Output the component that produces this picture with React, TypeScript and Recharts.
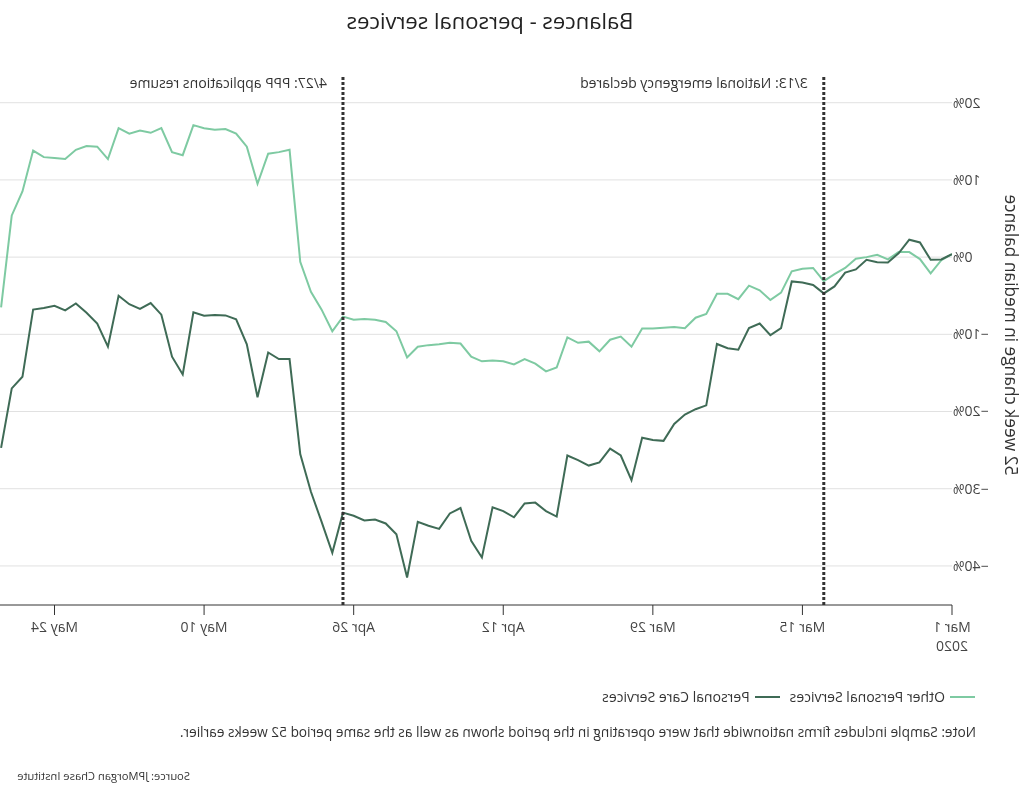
import React from 'react';
import { LineChart, Line, XAxis, YAxis, CartesianGrid, ReferenceLine } from 'recharts';

// daily values, Mar 1 2020 .. May 29 2020 (52 week change, %)
const otherPersonalServices = [
  0.4, -0.4, -2.1, -0.25, 0.65, 0.65, -0.3, 0.3, 0.0, -0.2,
  -1.4, -2.2, -3.1, -1.4, -1.5, -1.85, -4.6, -5.55, -4.3, -3.7,
  -5.45, -4.75, -4.75, -7.35, -7.85, -9.2, -9.05, -9.15, -9.25, -9.25,
  -11.6, -10.3, -10.7, -12.2, -10.95, -11.1, -10.4, -14.3, -14.8, -13.8,
  -13.2, -13.9, -13.5, -13.4, -13.5, -12.9, -11.2, -11.1, -11.3, -11.4,
  -11.6, -13.0, -9.6, -8.4, -8.1, -8.0, -8.1, -7.7, -9.6, -6.8,
  -4.5, -0.6, 13.9, 13.6, 13.4, 9.5, 14.3, 16.0, 16.6, 16.5,
  16.7, 17.1, 13.2, 13.6, 16.7, 16.1, 16.4, 16.0, 16.7, 12.7,
  14.3, 14.4, 13.9, 12.7, 12.85, 12.95, 13.8, 8.5, 5.4, -6.5,
];

const personalCareServices = [
  0.4, -0.3, -0.35, 1.9, 2.25, 0.5, -0.7, -0.65, -0.35, -1.6,
  -2.0, -3.8, -4.7, -3.6, -3.3, -3.15, -9.2, -10.1, -8.6, -9.2,
  -12.0, -11.8, -11.25, -19.2, -19.7, -20.4, -21.6, -23.8, -23.7, -23.4,
  -28.9, -25.7, -24.8, -26.6, -27.0, -26.3, -25.7, -33.6, -32.9, -31.8,
  -31.9, -33.7, -32.9, -32.4, -38.9, -36.75, -32.5, -33.2, -35.2, -34.8,
  -34.3, -41.5, -35.9, -34.5, -34.0, -34.1, -33.5, -33.1, -38.3, -34.3,
  -30.4, -25.5, -13.2, -13.2, -12.35, -18.15, -11.3, -8.05, -7.55, -7.5,
  -7.6, -7.15, -15.2, -12.9, -7.45, -5.95, -6.7, -6.1, -5.0, -11.6,
  -8.6, -7.2, -6.0, -6.9, -6.3, -6.6, -6.8, -15.5, -17.0, -24.7,
];

const tickDays = [0, 14, 28, 42, 56, 70, 84];
const tickLabels = ['Mar 1', 'Mar 15', 'Mar 29', 'Apr 12', 'Apr 26', 'May 10', 'May 24'];
const yTicks = [-40, -30, -20, -10, 0, 10, 20];

const events = [
  { day: 12, text: '3/13: National emergency declared' },
  { day: 57, text: '4/27: PPP applications resume' },
];

const series = [
  { key: 'other', name: 'Other Personal Services', color: '#7ecaa2' },
  { key: 'care', name: 'Personal Care Services', color: '#3f6b56' },
];

const data = otherPersonalServices.map((v, i) => ({
  day: i,
  other: v,
  care: personalCareServices[i],
}));

const FONT = '"Open Sans", "Liberation Sans", Arial, sans-serif';

function DateTick({ x, y, payload }: any) {
  const i = tickDays.indexOf(payload.value);
  return (
    <text x={x} y={y} textAnchor="middle" fill="#444" fontSize={14} fontFamily={FONT}>
      <tspan x={x} dy={15}>{tickLabels[i]}</tspan>
      {i === 0 && <tspan x={x} dy={19}>2020</tspan>}
    </text>
  );
}

function EventLabel({ viewBox, text }: any) {
  return (
    <text x={viewBox.x + 16} y={viewBox.y + 11} fill="#333" fontSize={14} fontFamily={FONT}>
      {text}
    </text>
  );
}

function AxisTitle({ viewBox }: any) {
  const cy = viewBox.y + viewBox.height / 2 - 6;
  return (
    <text
      x={14}
      y={cy}
      transform={`rotate(-90 14 ${cy})`}
      textAnchor="middle"
      dominantBaseline="central"
      fill="#333"
      fontSize={17.3}
      fontFamily={FONT}
    >
      52 week change in median balance
    </text>
  );
}

export default function App() {
  return (
    <div
      style={{
        position: 'fixed',
        left: 0,
        top: 0,
        width: 1026,
        height: 786,
        overflow: 'hidden',
        background: '#fff',
        transform: 'scaleX(-1)',
        fontFamily: FONT,
        color: '#333',
      }}
    >
      <div
        style={{
          position: 'absolute',
          left: 236,
          width: 600,
          top: 7,
          textAlign: 'center',
          fontSize: 22,
          lineHeight: '26px',
          color: '#222',
        }}
      >
        Balances - personal services
      </div>

      <div style={{ position: 'absolute', left: 0, top: 0 }}>
        <LineChart width={1026} height={665} data={data} margin={{ top: 77, right: 0, bottom: 0, left: 0 }}>
          <CartesianGrid vertical={false} stroke="#e1e1e1" syncWithTicks />
          <XAxis
            dataKey="day"
            type="number"
            domain={[0, 89.1]}
            allowDataOverflow
            ticks={tickDays}
            tick={<DateTick />}
            tickSize={10}
            tickMargin={2}
            height={60}
            stroke="#333"
          />
          <YAxis
            type="number"
            domain={[-45.06, 23.33]}
            allowDataOverflow
            ticks={yTicks}
            width={74}
            axisLine={false}
            tickLine={false}
            tickSize={0}
            tickMargin={1}
            tick={{ fill: '#444', fontSize: 14, fontFamily: FONT }}
            tickFormatter={(v: number) => (v < 0 ? '\u2212' + Math.abs(v) : String(v)) + '%'}
            label={(p: any) => <AxisTitle {...p} />}
          />
          {series.map((s) => (
            <Line
              key={s.key}
              type="linear"
              dataKey={s.key}
              name={s.name}
              stroke={s.color}
              strokeWidth={2}
              dot={false}
              isAnimationActive={false}
            />
          ))}
          {events.map((e) => (
            <ReferenceLine
              key={e.day}
              x={e.day}
              stroke="#333"
              strokeWidth={3}
              strokeDasharray="3 2"
              label={(p: any) => <EventLabel {...p} text={e.text} />}
            />
          ))}
        </LineChart>
      </div>

      <div
        style={{
          position: 'absolute',
          left: 51,
          top: 687,
          display: 'flex',
          alignItems: 'center',
          fontSize: 14,
          lineHeight: '20px',
          color: '#333',
        }}
      >
        {series.map((s) => (
          <div key={s.key} style={{ display: 'flex', alignItems: 'center', marginRight: 10 }}>
            <span style={{ display: 'inline-block', width: 25, height: 2, background: s.color, marginRight: 5 }} />
            <span>{s.name}</span>
          </div>
        ))}
      </div>

      <div style={{ position: 'absolute', left: 50, top: 722, fontSize: 13.7, lineHeight: '20px', color: '#333' }}>
        Note: Sample includes firms nationwide that were operating in the period shown as well as the same period 52 weeks earlier.
      </div>

      <div style={{ position: 'absolute', left: 836, top: 768, fontSize: 11.2, lineHeight: '16px', color: '#333' }}>
        Source: JPMorgan Chase Institute
      </div>
    </div>
  );
}
